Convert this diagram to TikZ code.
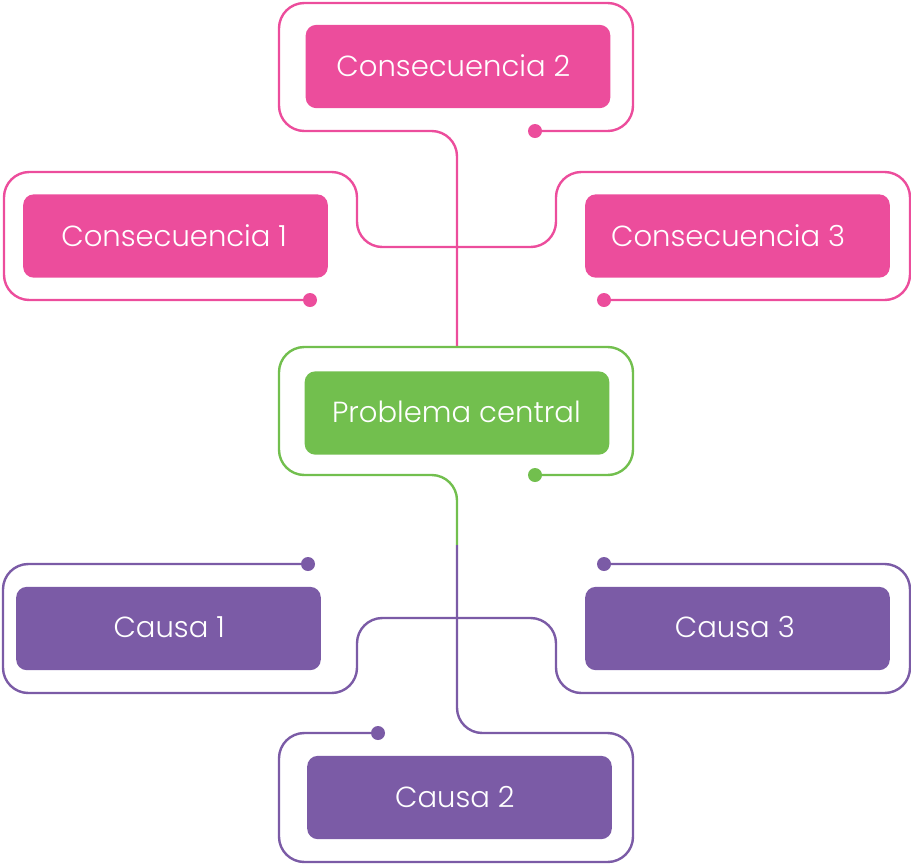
\documentclass[tikz,border=0pt]{standalone}
\usepackage{fontspec}
\setmainfont{Poppins Light}
\definecolor{cpink}{HTML}{EC4D9C}
\definecolor{cgreen}{HTML}{72BF4E}
\definecolor{cpurple}{HTML}{7B5BA6}
\tikzset{
  box/.style={fill=#1, rounded corners=8pt, minimum width=228.5pt, minimum height=62.5pt, inner sep=0pt},
  lbl/.style={text=white, inner sep=0pt, font=\fontsize{21.8}{26}\selectfont},
  wire/.style={draw=#1, line width=1.8pt, rounded corners=19pt},
  dotc/.style={fill=#1, circle, minimum size=10.5pt, inner sep=0pt},
}
\begin{document}
\begin{tikzpicture}[x=0.75pt, y=-0.75pt]
\useasboundingbox (0,0) rectangle (911,865);
% boxes
\node[box=cpink] (c2) at (458,66.5) {};
\node[box=cpink] (c1) at (175.5,236) {};
\node[box=cpink] (c3) at (737.5,236) {};
\node[box=cgreen] (pc) at (457,413) {};
\node[box=cpurple] (k1) at (168.5,628.5) {};
\node[box=cpurple] (k3) at (737.5,628.5) {};
\node[box=cpurple] (k2) at (459.5,797.5) {};
% labels
\node[lbl] (t2) at ([xshift=-3.5pt,yshift=0.5pt]c2) {Consecuencia 2};
\node[lbl] (t1) at ([xshift=-1pt]c1) {Consecuencia 1};
\node[lbl] (t3) at ([xshift=-7pt]c3) {Consecuencia 3};
\node[lbl] (tp) at ([xshift=-0.5pt,yshift=1pt]pc) {Problema central};
\node[lbl] (u1) at ([xshift=0.5pt,yshift=1pt]k1) {Causa 1};
\node[lbl] (u3) at ([xshift=-2pt,yshift=1pt]k3) {Causa 3};
\node[lbl] (u2) at ([xshift=-3.5pt]k2) {Causa 2};
% coordinates
\coordinate (d2) at (535,131);
\coordinate (d1) at (310,300);
\coordinate (d3) at (604,300);
\coordinate (dp) at (535,475);
\coordinate (dk1) at (308,564);
\coordinate (dk3) at (604,564);
\coordinate (dk2) at (378,733);
\coordinate (jc) at (457,247);
\coordinate (jk) at (457,618);
\coordinate (ptop) at (457,347);
\coordinate (split) at (457,545);
% consequence wires
\path[wire=cpink] (d2) -| (633,3) -| (279,131) -| (ptop);
\path[wire=cpink] (d1) -| (4,172) -| (357,247) -- (jc);
\path[wire=cpink] (jc) -| (556,172) -| (910,300) -- (d3);
% problem wire
\path[wire=cgreen] (dp) -| (633,347) -| (279,475) -| (split);
% cause wires
\path[wire=cpurple] (split) |- (633,733) |- (279,862) |- (dk2);
\path[wire=cpurple] (dk1) -| (3,693) -| (357,618) -- (jk);
\path[wire=cpurple] (jk) -| (556,693) -| (910,564) -- (dk3);
% dots
\node[dotc=cpink] at (d2) {};
\node[dotc=cpink] at (d1) {};
\node[dotc=cpink] at (d3) {};
\node[dotc=cgreen] at (dp) {};
\node[dotc=cpurple] at (dk1) {};
\node[dotc=cpurple] at (dk3) {};
\node[dotc=cpurple] at (dk2) {};
\end{tikzpicture}
\end{document}
